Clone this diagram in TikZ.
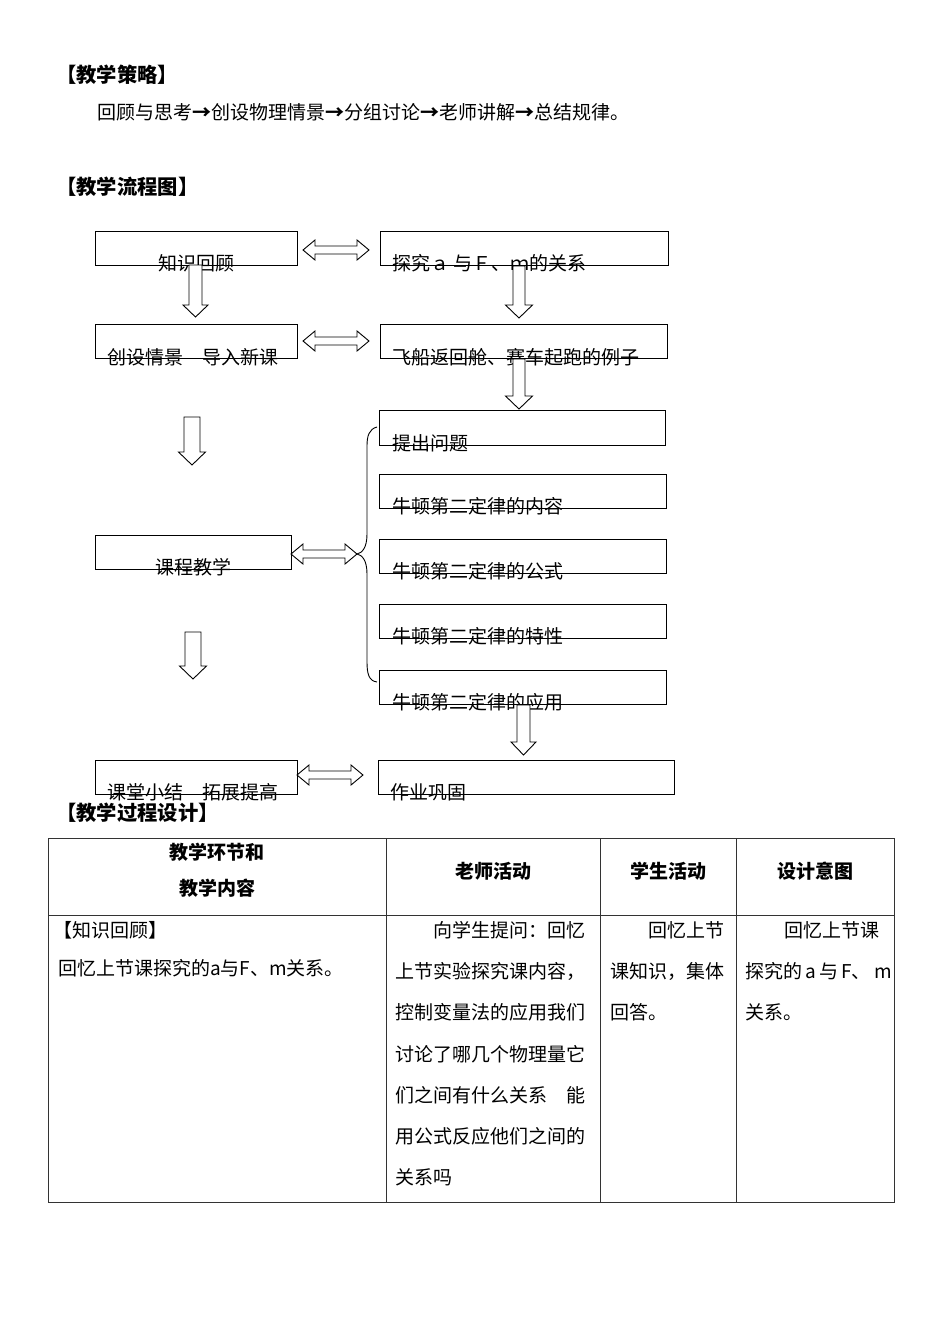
\documentclass[tikz,border=0pt]{standalone}
\usepackage{fontspec}
\setmainfont{Noto Sans CJK SC}
\usetikzlibrary{calc}
\tikzset{
  box/.style={draw=black, line width=1.1pt, inner sep=0pt, anchor=north west},
  txt/.style={inner sep=0pt, anchor=west, font=\fontsize{19}{19}\selectfont},
  ctxt/.style={inner sep=0pt, anchor=center, font=\fontsize{19}{19}\selectfont\bfseries},
  hdr/.style={inner sep=0pt, anchor=west, font=\fontsize{20.3}{20.3}\selectfont\bfseries},
  arrowline/.style={draw=black, line width=0.9pt, fill=white, line join=miter},
  tline/.style={draw=black!80, line width=1pt},
  pics/dnarr/.style n args={4}{code={
    \draw[arrowline] (-#2,0) -- (-#2,#1-#4) -- (-#3,#1-#4) -- (0,#1) -- (#3,#1-#4) -- (#2,#1-#4) -- (#2,0) -- cycle;
  }},
  pics/dblarr/.style={code={
    \draw[arrowline] (0,0) -- (12,-10) -- (12,-4) -- (#1-12,-4) -- (#1-12,-10) -- (#1,0) -- (#1-12,10) -- (#1-12,4) -- (12,4) -- (12,10) -- cycle;
  }}
}
\begin{document}
\begin{tikzpicture}[x=1pt,y=-1pt]
\useasboundingbox (0,0) rectangle (950,1344);

% headers and strategy
\node[hdr] (h1) at (56,75) {【教学策略】};
\node[txt] (s1) at (97,112) {回顾与思考\textbf{→}创设物理情景\textbf{→}分组讨论\textbf{→}老师讲解\textbf{→}总结规律。};
\node[hdr] (h2) at (56,187) {【教学流程图】};

% boxes
\node[box, minimum width=202, minimum height=34] (b1) at (95,231) {};
\node[box, minimum width=288, minimum height=34] (b2) at (380,231) {};
\node[box, minimum width=202, minimum height=34] (b3) at (95,324) {};
\node[box, minimum width=287, minimum height=34] (b4) at (380,324) {};
\node[box, minimum width=286, minimum height=35] (b5) at (379,410) {};
\node[box, minimum width=287, minimum height=34] (b6) at (379,474) {};
\node[box, minimum width=287, minimum height=34] (b7) at (379,539) {};
\node[box, minimum width=287, minimum height=34] (b8) at (379,604) {};
\node[box, minimum width=287, minimum height=34] (b9) at (379,670) {};
\node[box, minimum width=196, minimum height=34] (b10) at (95,535) {};
\node[box, minimum width=202, minimum height=34] (b11) at (95,760) {};
\node[box, minimum width=296, minimum height=34] (b12) at (378,760) {};

% box texts
\node[txt] (t1) at (158,263) {知识回顾};
\node[txt] (t2) at (392,263) {探究ａ 与Ｆ、ｍ的关系};
\node[txt] (t3) at (107,357) {创设情景　导入新课};
\node[txt] (t4) at (392,357) {飞船返回舱、赛车起跑的例子};
\node[txt] (t5) at (392,443) {提出问题};
\node[txt] (t6) at (392,506) {牛顿第二定律的内容};
\node[txt] (t7) at (392,571) {牛顿第二定律的公式};
\node[txt] (t8) at (392,636) {牛顿第二定律的特性};
\node[txt] (t9) at (392,702) {牛顿第二定律的应用};
\node[txt] (t10) at (155,567) {课程教学};
\node[txt] (t11) at (107,792) {课堂小结　拓展提高};
\node[txt] (t12) at (390,792) {作业巩固};

% down arrows
\pic at (195.5,265) {dnarr={52}{6.5}{12.5}{12}};
\pic at (519,266) {dnarr={52}{6}{13.5}{13}};
\pic at (519,359) {dnarr={50}{6}{13.5}{13}};
\pic at (192,417) {dnarr={48}{8}{13.5}{13}};
\pic at (193,632) {dnarr={47}{8}{13.5}{13}};
\pic at (523.5,705) {dnarr={50}{6.5}{12.5}{13}};

% double arrows
\pic at (303,250) {dblarr=66};
\pic at (303,341) {dblarr=66};
\pic at (291,554) {dblarr=66};
\pic at (297,775) {dblarr=66};

% brace
\draw[line width=0.9pt] (377,427) .. controls (369,429) and (367,436) .. (367,446) -- (367,534)
  .. controls (367,548) and (362,553) .. (357,554)
  .. controls (362,555) and (367,560) .. (367,574) -- (367,662)
  .. controls (367,674) and (369,681) .. (377,682);

% table
\node[hdr] (h3) at (56,813) {【教学过程设计】};
\draw[tline] (48,838) rectangle (894,1202);
\draw[tline] (48,915) -- (894,915);
\draw[tline] (386,838) -- (386,1202);
\draw[tline] (600,838) -- (600,1202);
\draw[tline] (736,838) -- (736,1202);

\node[ctxt] (c1a) at (217,852) {教学环节和};
\node[ctxt] (c1b) at (217,888) {教学内容};
\node[ctxt] (c2) at (493,871) {老师活动};
\node[ctxt] (c3) at (668,871) {学生活动};
\node[ctxt] (c4) at (815,871) {设计意图};

\node[txt] (r1a) at (53,930) {【知识回顾】};
\node[txt] (r1b) at (58,968) {回忆上节课探究的a与F、m关系。};

\node[txt] (r2a) at (433,930) {向学生提问：回忆};
\node[txt] (r2b) at (395,971) {上节实验探究课内容，};
\node[txt] (r2c) at (395,1012) {控制变量法的应用我们};
\node[txt] (r2d) at (395,1054) {讨论了哪几个物理量它};
\node[txt] (r2e) at (395,1095) {们之间有什么关系　能};
\node[txt] (r2f) at (395,1136) {用公式反应他们之间的};
\node[txt] (r2g) at (395,1177) {关系吗};

\node[txt] (r3a) at (648,930) {回忆上节};
\node[txt] (r3b) at (610,971) {课知识，集体};
\node[txt] (r3c) at (610,1012) {回答。};

\node[txt] (r4a) at (784,930) {回忆上节课};
\node[txt] (r4b) at (745,971) {探究的\,a\,与\,F、\,m};
\node[txt] (r4c) at (745,1012) {关系。};
\end{tikzpicture}
\end{document}
